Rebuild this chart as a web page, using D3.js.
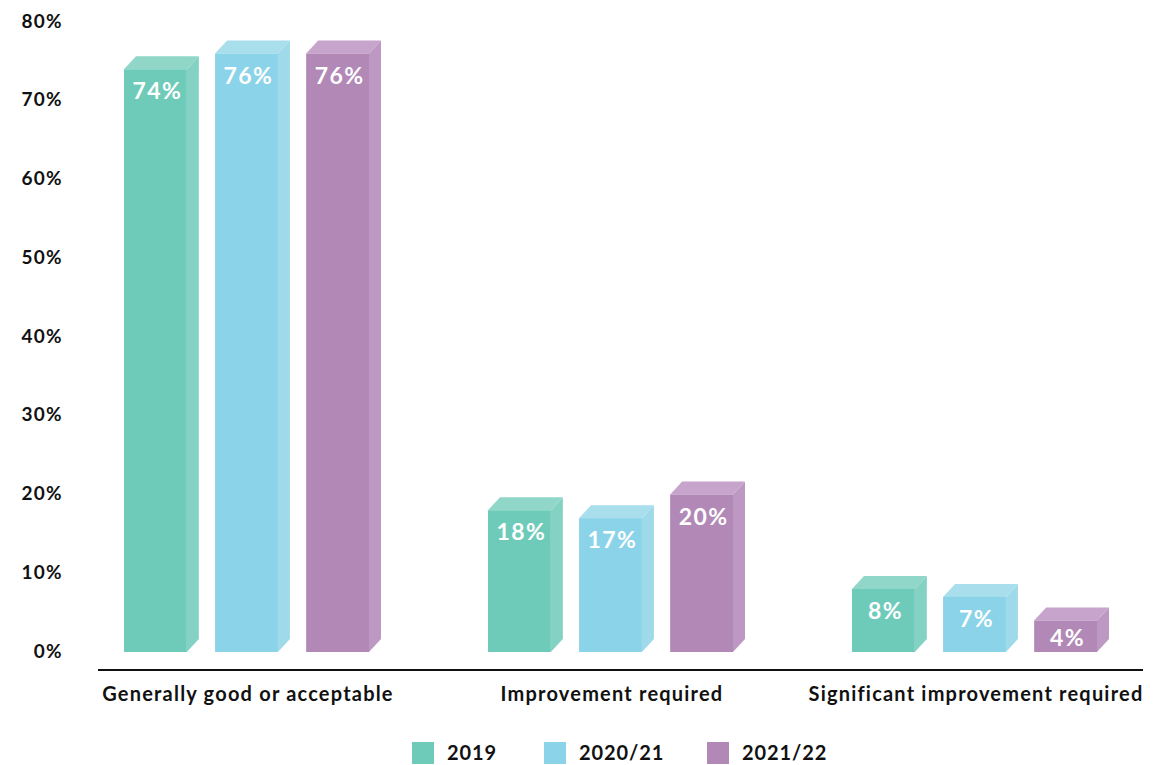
<!DOCTYPE html>
<html>
<head>
<meta charset="utf-8">
<script src="https://cdn.jsdelivr.net/npm/d3@7"></script>
<style>
  html, body { margin: 0; padding: 0; background: #fff; }
  svg { display: block; font-family: Lato, "Open Sans", sans-serif; }
</style>
</head>
<body>
<svg id="chart" width="1157" height="765"></svg>
<script>
// Ratings by category and year
const categories = ["Generally good or acceptable", "Improvement required", "Significant improvement required"];
const seriesNames = ["2019", "2020/21", "2021/22"];
const values2019 = [74, 18, 8];
const values2021 = [76, 17, 7];
const values2022 = [76, 20, 4];
const yTicks = [0, 10, 20, 30, 40, 50, 60, 70, 80];

const seriesValues = [values2019, values2021, values2022];
const palette = {
  "2019":    { front: "#6fcbb9", side: "#84d2c3", top: "#91d7c9" },
  "2020/21": { front: "#8bd3e8", side: "#9fdaea", top: "#a9deed" },
  "2021/22": { front: "#b288b7", side: "#bd98c3", top: "#c6a4cb" }
};

const svg = d3.select("#chart");

const y = d3.scaleLinear().domain([0, 80]).range([652, 22]);
const x0 = d3.scaleBand().domain(categories).range([65, 1157]).padding(0);
const x1 = d3.scaleBand().domain(seriesNames).range([-123, 122]).paddingInner(0.31).paddingOuter(0);

// depth of the extruded boxes
const dx = 12, dy = 13;

// y tick labels
svg.append("g").selectAll("text").data(yTicks).join("text")
  .attr("x", 63)
  .attr("y", d => y(d) - 1)
  .attr("dy", "0.35em")
  .attr("text-anchor", "end")
  .attr("font-size", 19)
  .attr("font-weight", 700)
  .attr("letter-spacing", 1.3)
  .attr("fill", "#111")
  .text(d => d + "%");

// bars
const rows = [];
categories.forEach((c, ci) => {
  seriesNames.forEach((s, si) => rows.push({ cat: c, series: s, value: seriesValues[si][ci] }));
});

const bars = svg.append("g").selectAll("g").data(rows).join("g")
  .attr("transform", d => `translate(${x0(d.cat) + x0.bandwidth() / 2 + x1(d.series)},0)`);

const w = x1.bandwidth();
const base = y(0);

bars.append("path") // side face
  .attr("fill", d => palette[d.series].side)
  .attr("d", d => {
    const t = y(d.value);
    return `M${w},${t}L${w + dx},${t - dy}L${w + dx},${base - dy}L${w},${base}Z`;
  });

bars.append("path") // top face
  .attr("fill", d => palette[d.series].top)
  .attr("d", d => {
    const t = y(d.value);
    return `M0,${t}L${dx},${t - dy}L${w + dx},${t - dy}L${w},${t}Z`;
  });

bars.append("rect") // front face
  .attr("x", 0)
  .attr("y", d => y(d.value))
  .attr("width", w)
  .attr("height", d => base - y(d.value))
  .attr("fill", d => palette[d.series].front);

// value labels sit near the top of the front face, centred on short boxes
bars.append("text")
  .attr("x", w / 2 + 2)
  .attr("y", d => y(d.value) + Math.min(22, (base - y(d.value)) / 2 + 2))
  .attr("dy", "0.35em")
  .attr("text-anchor", "middle")
  .attr("font-size", 23)
  .attr("font-weight", 700)
  .attr("letter-spacing", 1.4)
  .attr("fill", "#fff")
  .text(d => d.value + "%");

// baseline
svg.append("line")
  .attr("x1", 98).attr("x2", 1143)
  .attr("y1", 670).attr("y2", 670)
  .attr("stroke", "#111").attr("stroke-width", 2);

// category labels
svg.append("g").selectAll("text").data(categories).join("text")
  .attr("x", d => x0(d) + x0.bandwidth() / 2 + 1)
  .attr("y", 701)
  .attr("text-anchor", "middle")
  .attr("font-size", 20)
  .attr("font-weight", 700)
  .attr("letter-spacing", 1.2)
  .attr("fill", "#111")
  .text(d => d);

// legend
const legendX = [412, 544, 707];
const legend = svg.append("g").selectAll("g").data(seriesNames).join("g")
  .attr("transform", (d, i) => `translate(${legendX[i]},742)`);
legend.append("rect")
  .attr("width", 22).attr("height", 22)
  .attr("fill", d => palette[d].front);
legend.append("text")
  .attr("x", 35).attr("y", 18)
  .attr("font-size", 20)
  .attr("font-weight", 700)
  .attr("letter-spacing", 0.9)
  .attr("fill", "#111")
  .text(d => d);
</script>
</body>
</html>
